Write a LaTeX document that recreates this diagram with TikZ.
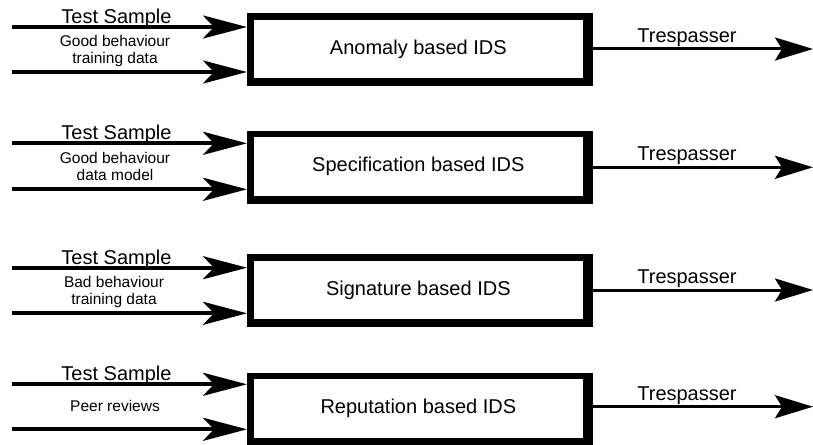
\documentclass[tikz,border=0pt]{standalone}
\usepackage{fontspec}
\setmainfont{Liberation Sans}
\usetikzlibrary{arrows.meta,backgrounds}
\begin{document}
\begin{tikzpicture}[x=1pt,y=-1pt,
  big/.style={font=\fontsize{20}{24}\selectfont, inner sep=0pt},
  small/.style={font=\fontsize{15.5}{16.6}\selectfont, inner sep=0pt, align=center},
  idsbox/.style={draw=black, fill=white, line width=6.6pt, inner sep=0pt,
    minimum width=336.1pt, minimum height=65.2pt,
    font=\fontsize{20}{24}\selectfont},
  boxshadow/.style={fill=black},
  inarrow/.style={line width=4.2pt, -{Stealth[length=44pt,width=23pt,inset=11pt]}},
  outarrow/.style={line width=3pt, -{Stealth[length=38pt,width=23pt,inset=7pt]}}]
\clip (0,0) rectangle (813,444);

% Row 1
\node[idsbox] (b1) at (418.35,48.9) {Anomaly based IDS};
\coordinate (i1a) at (12,27);
\coordinate (i1b) at (12,72);
\coordinate (o1) at (813,49);
\draw[inarrow] (i1a) -- (i1a -| b1.west);
\draw[inarrow] (i1b) -- (i1b -| b1.west);
\draw[outarrow] (o1 -| b1.east) -- (o1);
\node[big, anchor=base] (t1) at (116.5,23.3) {Test Sample};
\node[small, anchor=base] (s1) at (115,63.3) {Good behaviour\\training data};
\node[big, anchor=base] (r1) at (687,42.7) {Trespasser};

% Row 2
\node[idsbox] (b2) at (418.35,166.6) {Specification based IDS};
\coordinate (i2a) at (12,143.3);
\coordinate (i2b) at (12,189.3);
\coordinate (o2) at (813,167.3);
\draw[inarrow] (i2a) -- (i2a -| b2.west);
\draw[inarrow] (i2b) -- (i2b -| b2.west);
\draw[outarrow] (o2 -| b2.east) -- (o2);
\node[big, anchor=base] (t2) at (116.5,139.6) {Test Sample};
\node[small, anchor=base] (s2) at (115,180.2) {Good behaviour\\data model};
\node[big, anchor=base] (r2) at (687,160.7) {Trespasser};

% Row 3
\node[idsbox] (b3) at (418.35,289.9) {Signature based IDS};
\coordinate (i3a) at (12,267.7);
\coordinate (i3b) at (12,313.3);
\coordinate (o3) at (813,290);
\draw[inarrow] (i3a) -- (i3a -| b3.west);
\draw[inarrow] (i3b) -- (i3b -| b3.west);
\draw[outarrow] (o3 -| b3.east) -- (o3);
\node[big, anchor=base] (t3) at (116.5,264) {Test Sample};
\node[small, anchor=base] (s3) at (114,304.2) {Bad behaviour\\training data};
\node[big, anchor=base] (r3) at (687,283.7) {Trespasser};

% Row 4
\node[idsbox] (b4) at (418.35,408.6) {Reputation based IDS};
\coordinate (i4a) at (12,384.3);
\coordinate (i4b) at (12,429.3);
\coordinate (o4) at (813,406.7);
\draw[inarrow] (i4a) -- (i4a -| b4.west);
\draw[inarrow] (i4b) -- (i4b -| b4.west);
\draw[outarrow] (o4 -| b4.east) -- (o4);
\node[big, anchor=base] (t4) at (116.5,380.6) {Test Sample};
\node[small, anchor=base] (s4) at (115,411.7) {Peer reviews};
\node[big, anchor=base] (r4) at (687,400.7) {Trespasser};

% white page, then thicker right and bottom edges of the boxes
\begin{scope}[on background layer]
  \fill[white] (0,0) rectangle (813,444);
  \foreach \b in {b1,b2,b3,b4}
    \fill[boxshadow] (\b.north west) rectangle ([shift={(3.2pt,-1.3pt)}]\b.south east);
\end{scope}
\end{tikzpicture}
\end{document}
